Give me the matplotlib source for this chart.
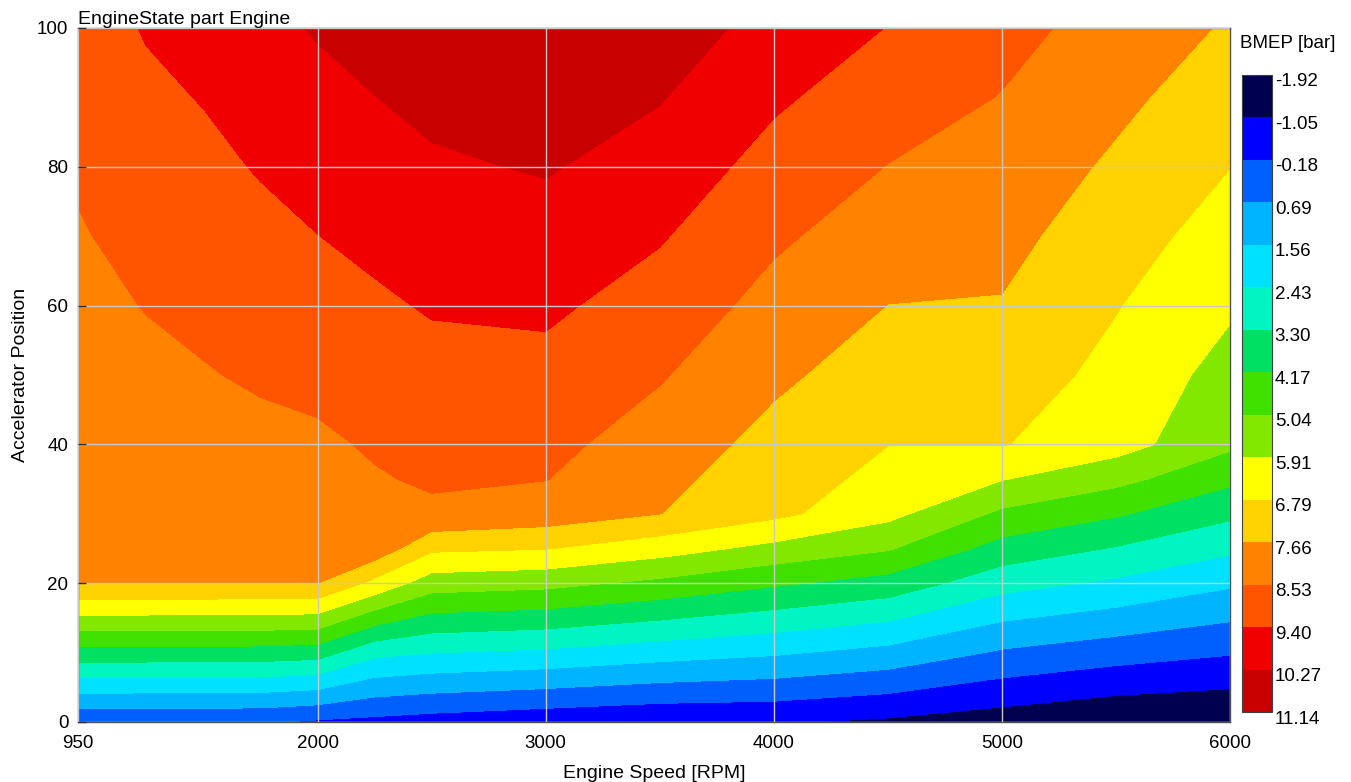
import numpy as np
import matplotlib
matplotlib.use('Agg')
import matplotlib.pyplot as plt
from matplotlib import transforms

plt.rcParams['font.family'] = ['Liberation Sans', 'DejaVu Sans']

# engine speed grid [RPM] and accelerator position grid [%]
rpm = [950, 1250, 1500, 1750, 2000, 2250, 2500, 3000, 3500, 4000, 4500, 5000, 5500, 6000]
accel = [0, 10, 20, 25, 30, 35, 40, 50, 60, 70, 80, 90, 100]

# BMEP [bar] per speed column, one value per accelerator position
bmep_950 = [-0.04, 3.85, 7.67, 7.74, 7.82, 7.90, 7.98, 8.14, 8.30, 8.46, 8.63, 8.82, 9.00]
bmep_1250 = [-0.08, 3.83, 7.67, 7.78, 7.89, 8.00, 8.12, 8.34, 8.56, 8.79, 9.01, 9.23, 9.46]
bmep_1500 = [-0.09, 3.82, 7.67, 7.80, 7.94, 8.07, 8.21, 8.48, 8.72, 8.96, 9.20, 9.44, 9.67]
bmep_1750 = [-0.10, 3.80, 7.66, 7.82, 7.99, 8.15, 8.32, 8.63, 8.90, 9.18, 9.46, 9.75, 10.05]
bmep_2000 = [-0.30, 3.69, 7.66, 7.84, 8.03, 8.21, 8.40, 8.74, 9.06, 9.39, 9.71, 10.02, 10.34]
bmep_2250 = [-0.42, 2.66, 6.55, 8.23, 8.35, 8.47, 8.61, 8.94, 9.27, 9.60, 9.93, 10.26, 10.58]
bmep_2500 = [-0.56, 2.45, 5.46, 6.95, 8.40, 8.62, 8.79, 9.13, 9.47, 9.81, 10.15, 10.49, 10.84]
bmep_3000 = [-0.78, 2.27, 5.29, 6.82, 8.15, 8.55, 8.75, 9.15, 9.55, 9.94, 10.34, 10.74, 11.14]
bmep_3500 = [-0.96, 1.94, 4.84, 6.29, 7.67, 7.90, 8.14, 8.60, 9.04, 9.47, 9.90, 10.32, 10.75]
bmep_4000 = [-0.97, 1.67, 4.30, 5.66, 7.00, 7.15, 7.38, 7.83, 8.25, 8.67, 9.10, 9.53, 9.95]
bmep_4500 = [-1.20, 1.29, 3.83, 5.12, 6.15, 6.58, 6.80, 7.22, 7.65, 8.08, 8.51, 8.94, 9.38]
bmep_5000 = [-1.50, 0.58, 2.76, 3.83, 4.87, 5.95, 6.83, 7.22, 7.61, 7.91, 8.20, 8.50, 8.79]
bmep_5500 = [-1.83, 0.20, 2.28, 3.24, 4.27, 5.29, 6.27, 6.55, 6.83, 7.17, 7.52, 7.86, 8.21]
bmep_6000 = [-1.92, -0.11, 1.69, 2.60, 3.48, 4.37, 5.20, 5.58, 6.03, 6.41, 6.80, 7.18, 7.56]

levels = [-1.92, -1.05, -0.18, 0.69, 1.56, 2.43, 3.30, 4.17, 5.04, 5.91,
          6.79, 7.66, 8.53, 9.40, 10.27, 11.14]
band_colors = ['#000050', '#0000ff', '#0060ff', '#00b4ff', '#00e1ff',
               '#00f5c3', '#00e164', '#40e100', '#82e800', '#ffff00',
               '#ffd200', '#ff8200', '#ff5500', '#f00000', '#c80000']

Z = np.array([bmep_950, bmep_1250, bmep_1500, bmep_1750, bmep_2000, bmep_2250,
              bmep_2500, bmep_3000, bmep_3500, bmep_4000, bmep_4500, bmep_5000,
              bmep_5500, bmep_6000]).T

W, H = 1351, 782
fig = plt.figure(figsize=(W / 100, H / 100), dpi=100)
ax = fig.add_axes([78 / W, 1 - 722 / H, 1152 / W, 694 / H])

cf = ax.contourf(rpm, accel, Z, levels=levels, colors=band_colors)
ax.set_xlim(950, 6000)
ax.set_ylim(0, 100)
ax.set_xticks([950, 2000, 3000, 4000, 5000, 6000])
ax.set_yticks([0, 20, 40, 60, 80, 100])
ax.grid(True, color='#c8c8c8', lw=1)
ax.set_axisbelow(False)
ax.tick_params(axis='x', length=0, labelsize=13.5, pad=9)
ax.tick_params(axis='y', direction='in', length=6, width=1, color='#303030',
               labelsize=13.5, pad=7)
for s in ax.spines.values():
    s.set_color('#505050')
    s.set_linewidth(1)

ax.set_xlabel('Engine Speed [RPM]', fontsize=14, labelpad=10)
ax.set_ylabel('Accelerator Position', fontsize=14, labelpad=6)
ax.set_title('EngineState part Engine', loc='left', fontsize=14, pad=3)

# colour bar, low values on top
cax = fig.add_axes([1242 / W, 1 - 712 / H, 30 / W, 637 / H])
cb = fig.colorbar(cf, cax=cax)
cax.invert_yaxis()
cb.set_ticks(levels)
cb.set_ticklabels(['%.2f' % v for v in levels])
cax.tick_params(length=0, labelsize=13.5, pad=2)
cb.outline.set_edgecolor('#404040')
cb.outline.set_linewidth(0.8)
shift = transforms.ScaledTranslation(0, -5 / 100, fig.dpi_scale_trans)
for lab in cax.get_yticklabels():
    lab.set_transform(lab.get_transform() + shift)
fig.text(1240 / W, 1 - 43 / H, 'BMEP [bar]', fontsize=13.5, va='center', ha='left')

fig.savefig('out.png', dpi=100)
